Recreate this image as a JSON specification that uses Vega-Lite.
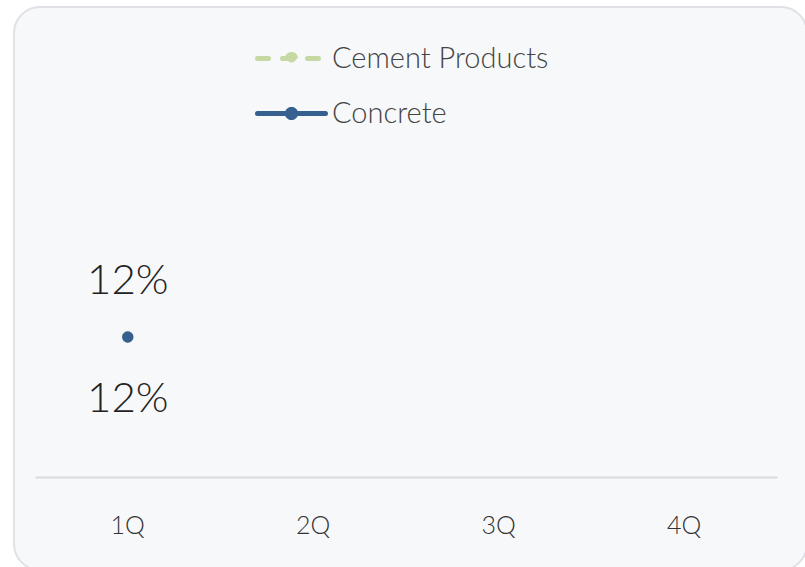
{
  "$schema": "https://vega.github.io/schema/vega-lite/v6.json",
  "autosize": {"type": "none"},
  "padding": {"left": 14, "top": 7, "right": 0, "bottom": 0},
  "width": 793,
  "height": 563,
  "background": "#ffffff",
  "config": {
    "view": {"fill": "#f7f8fa", "stroke": "#dfe1e6", "strokeWidth": 2, "cornerRadius": 26},
    "font": "Lato"
  },
  "data": {
    "values": [
      {"quarter": "1Q", "series": "Cement Products", "value": 0.12, "label": "12%"},
      {"quarter": "1Q", "series": "Concrete", "value": 0.12, "label": "12%"}
    ]
  },
  "encoding": {
    "x": {
      "field": "quarter",
      "type": "nominal",
      "scale": {"type": "band", "domain": ["1Q", "2Q", "3Q", "4Q"], "range": [21, 763], "paddingInner": 0, "paddingOuter": 0},
      "axis": {
        "title": null,
        "orient": "bottom",
        "offset": -93,
        "labelAngle": 0,
        "ticks": false,
        "grid": false,
        "domainColor": "#d8dadf",
        "domainWidth": 2,
        "labelPadding": 36,
        "labelFontSize": 25,
        "labelFont": "Lato",
        "labelFontWeight": 300,
        "labelColor": "#333333"
      }
    },
    "y": {
      "field": "value",
      "type": "quantitative",
      "scale": {"domain": [0, 0.24], "range": [470, 190], "zero": false, "nice": false},
      "axis": null
    }
  },
  "layer": [
    {
      "mark": {"type": "line", "point": {"filled": true, "size": 130}, "strokeWidth": 5, "strokeCap": "round"},
      "encoding": {
        "color": {
          "field": "series",
          "type": "nominal",
          "scale": {"domain": ["Cement Products", "Concrete"], "range": ["#c6d9a2", "#36608f"]},
          "legend": {
            "title": null,
            "orient": "none",
            "legendX": 241,
            "legendY": 15,
            "direction": "vertical",
            "symbolType": "M-1,0L1,0M-0.12,0A0.12,0.12,0,1,1,0.12,0A0.12,0.12,0,1,1,-0.12,0Z",
            "symbolSize": 4624,
            "symbolStrokeWidth": 5,
            "labelFontSize": 29,
            "labelFont": "Lato",
            "labelFontWeight": 300,
            "labelColor": "#444444",
            "labelOffset": 4,
            "labelLimit": 0,
            "rowPadding": 3,
            "encode": {
              "symbols": {
                "update": {
                  "fill": {"scale": "color", "field": "value"},
                  "strokeCap": {"value": "round"},
                  "opacity": {"value": 1}
                }
              }
            }
          }
        },
        "strokeDash": {
          "field": "series",
          "type": "nominal",
          "scale": {"domain": ["Cement Products", "Concrete"], "range": [[11, 14], [1, 0]]},
          "legend": null
        },
        "order": {"field": "series"}
      }
    },
    {
      "transform": [{"filter": "datum.series === 'Cement Products'"}],
      "mark": {"type": "text", "dy": -56, "baseline": "middle", "align": "center", "fontSize": 42, "font": "Lato", "fontWeight": 300, "color": "#222222"},
      "encoding": {"text": {"field": "label"}}
    },
    {
      "transform": [{"filter": "datum.series === 'Concrete'"}],
      "mark": {"type": "text", "dy": 62, "baseline": "middle", "align": "center", "fontSize": 42, "font": "Lato", "fontWeight": 300, "color": "#222222"},
      "encoding": {"text": {"field": "label"}}
    }
  ]
}
